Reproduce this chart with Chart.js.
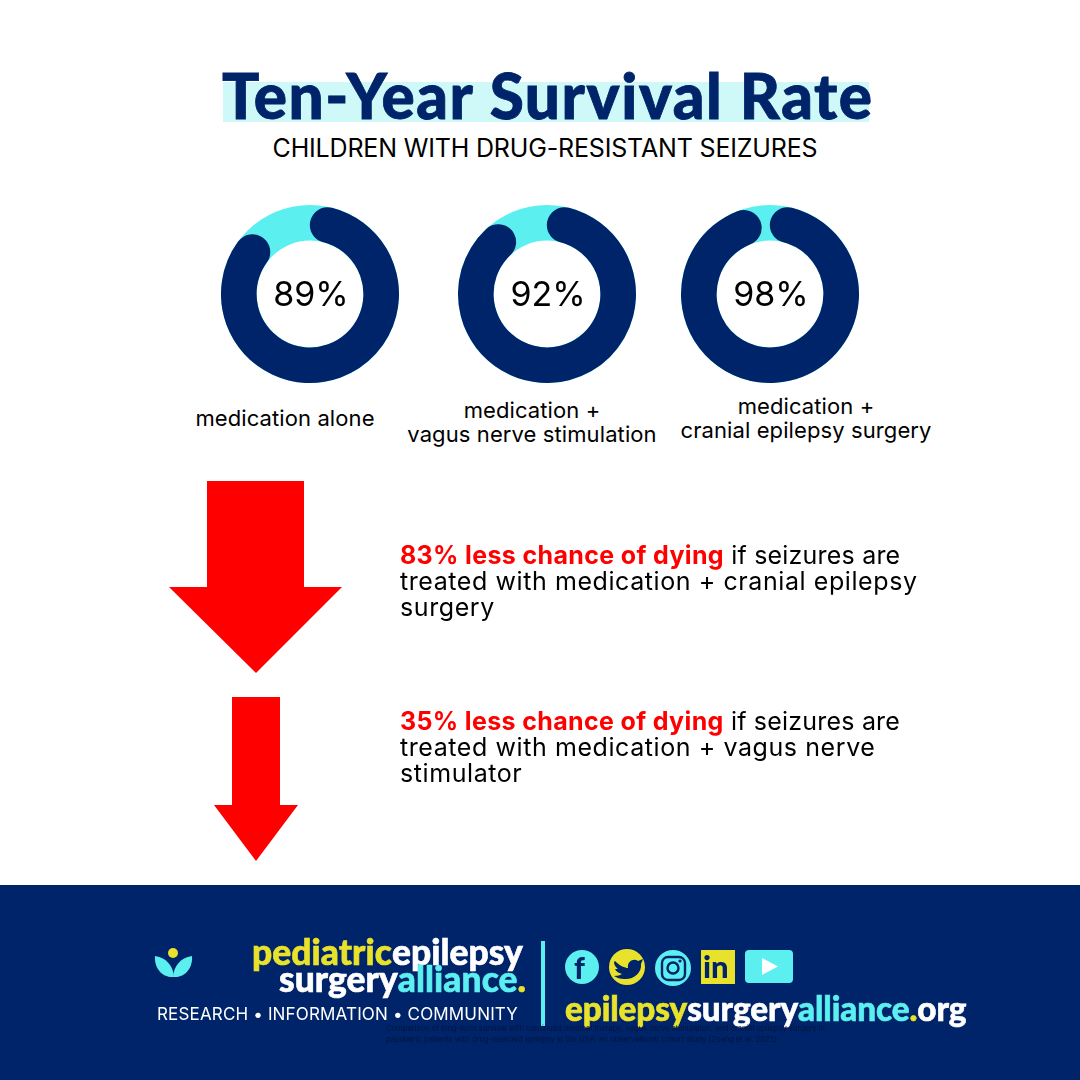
<!DOCTYPE html>
<html>
<head>
<meta charset="utf-8">
<script src="https://cdn.jsdelivr.net/npm/chart.js@4"></script>
<style>
html, body { margin: 0; padding: 0; background: #fff; }
#page { position: relative; width: 1080px; height: 1080px; overflow: hidden; font-family: Inter, sans-serif; color: #000; }
.t { position: absolute; white-space: nowrap; }
.c { text-align: center; transform: translateX(-50%); }
canvas { position: absolute; }
svg { position: absolute; left: 0; top: 0; }
#footer { position: absolute; left: 0; top: 885px; width: 1080px; height: 195px; background: #002469; }
.logo { font-family: Lato, sans-serif; font-weight: 900; line-height: 26px; -webkit-text-stroke: 0.6px currentColor; }
.logo span { display: inline-block; line-height: 26px; }
.y { color: #E8E22C; } .w { color: #fff; } .b { color: #5CEFEF; }
.red { color: #F00; font-weight: 700; letter-spacing: 0.35px; }
.rest { letter-spacing: 0.2px; }
.body { font-size: 25px; line-height: 26px; left: 400px; letter-spacing: 0.58px; font-family: Inter, sans-serif; }
.lab { font-size: 22px; line-height: 24px; letter-spacing: 0.1px; }
</style>
</head>
<body>
<div id="page">
  <div style="position:absolute;left:223px;top:82px;width:646px;height:40px;background:#CFF8F8"></div>
  <div class="t" id="title" style="left:222px;top:57px;font:900 62px/76px Lato,sans-serif;color:#002469;letter-spacing:1.6px;-webkit-text-stroke:0.8px #002469">Ten-Year Survival Rate</div>
  <div class="t c" style="left:545px;top:133px;font-size:25px;line-height:30px;letter-spacing:-0.17px">CHILDREN WITH DRUG-RESISTANT SEIZURES</div>

  <canvas id="d0" width="178" height="178" style="left:221px;top:205px;width:178px;height:178px"></canvas>
  <canvas id="d1" width="178" height="178" style="left:458px;top:205px;width:178px;height:178px"></canvas>
  <canvas id="d2" width="178" height="178" style="left:681px;top:205px;width:178px;height:178px"></canvas>

  <div class="t c lab" id="l0" style="left:285px;top:406px"></div>
  <div class="t c lab" id="l1" style="left:532px;top:398px"></div>
  <div class="t c lab" id="l2" style="left:806px;top:394px"></div>

  <svg width="1080" height="885">
    <polygon fill="#F00" points="207,481 304,481 304,587 342,587 256,673 169,587 207,587"/>
    <polygon fill="#F00" points="232,697 280,697 280,805 298,805 256,861 214,805 232,805"/>
  </svg>

  <div class="t body" style="top:542px"><span class="red">83% less chance of dying</span><span class="rest"> if seizures are</span><br>treated with medication + cranial epilepsy<br>surgery</div>
  <div class="t body" style="top:708px"><span class="red">35% less chance of dying</span><span class="rest"> if seizures are</span><br>treated with medication + vagus nerve<br>stimulator</div>

  <div id="footer"></div>
  <svg width="1080" height="1080" viewBox="0 0 1080 1080">
    <!-- logo sprout -->
    <circle cx="173" cy="953" r="5" fill="#E8E22C"/>
    <path d="M155 956 C167 958 173 966 174 977 C162 978 154 968 155 956 Z" fill="#5CEFEF"/>
    <path d="M192 956 C180 958 174 966 173 977 C185 978 193 968 192 956 Z" fill="#5CEFEF"/>
    <!-- divider -->
    <rect x="541" y="941" width="4" height="85" fill="#5CEFEF"/>
    <!-- social icons -->
    <circle cx="582" cy="967" r="17" fill="#5CEFEF"/>
    <circle cx="627" cy="967" r="18" fill="#E8E22C"/>
    <path d="M615 961 C620 966 625 968 628 968 C627 961 634 958 638 961 L643 959 L641 964 C642 973 633 980 624 979 C620 979 617 978 614 976 C618 976 620 975 622 974 C618 973 616 971 615 969 L618 969 C615 967 614 964 614 962 Z" fill="#002469"/>
    <circle cx="673" cy="968" r="18" fill="#5CEFEF"/>
    <rect x="662" y="957" width="23" height="23" rx="6" fill="none" stroke="#002469" stroke-width="2.4"/>
    <circle cx="673" cy="968" r="5.5" fill="none" stroke="#002469" stroke-width="2.4"/>
    <circle cx="680" cy="961" r="1.6" fill="#002469"/>
    <rect x="701" y="950" width="34" height="34" fill="#E8E22C"/>
    <rect x="745" y="950" width="48" height="33" rx="4" fill="#5CEFEF"/>
    <polygon points="762,958 762,975 778,966.5" fill="#fff"/>
  </svg>
  <div class="t" style="left:574px;top:949px;font:900 30px/36px Lato,sans-serif;color:#002469">f</div>
  <div class="t" style="left:703px;top:948px;font:900 31px/36px Lato,sans-serif;color:#002469">in</div>

  <div class="t logo" style="right:557px;top:939px;font-size:35.4px;letter-spacing:0.05px"><span class="y">pediatric</span><span class="w">epilepsy</span></div>
  <div class="t logo" style="right:554px;top:966px;font-size:35.4px;letter-spacing:0.05px"><span class="w">surgery</span><span class="b">alliance</span><span class="y">.</span></div>
  <div class="t w" style="left:157px;top:1005px;font-size:17px;line-height:18px;letter-spacing:0.16px">RESEARCH • INFORMATION • COMMUNITY</div>
  <div class="t logo" style="left:565px;top:995px;font-size:33.3px;letter-spacing:-0.1px"><span class="y">epilepsy</span><span class="w">surgery</span><span class="b">alliance</span><span class="y">.</span><span class="w">org</span></div>
  <div class="t" style="left:386px;top:1023px;font-size:7.6px;line-height:11px;color:#00153f">Comparison of long-term survival with continued medical therapy, vagus nerve stimulation, and cranial epilepsy surgery in<br>paediatric patients with drug-resistant epilepsy in the USA: an observational cohort study (Zhang et al. 2023)</div>
</div>

<script>
// Chart data
const categories = [
    ['medication alone'],
    ['medication +', 'vagus nerve stimulation'],
    ['medication +', 'cranial epilepsy surgery']
];
const surviving = [89, 92, 98];
const notSurviving = [11, 8, 2];

// Full cyan ring behind the navy arc, so it shows around the round ends
const ringPlugin = {
    id: 'ringPlugin',
    beforeDatasetsDraw: (chart) => {
        const arc = chart.getDatasetMeta(0).data[0];
        const ctx = chart.ctx;
        ctx.save();
        ctx.fillStyle = '#5CEFEF';
        ctx.beginPath();
        ctx.arc(arc.x, arc.y, arc.outerRadius, 0, Math.PI * 2);
        ctx.arc(arc.x, arc.y, arc.innerRadius, Math.PI * 2, 0, true);
        ctx.fill();
        ctx.restore();
    }
};

// Percentage in the middle of the doughnut
const centerPlugin = {
    id: 'centerPlugin',
    afterDatasetsDraw: (chart) => {
        const arc = chart.getDatasetMeta(0).data[0];
        const ctx = chart.ctx;
        ctx.save();
        ctx.fillStyle = '#000';
        ctx.font = '34px Inter, sans-serif';
        ctx.textAlign = 'center';
        ctx.textBaseline = 'middle';
        ctx.fillText(chart.data.datasets[0].data[0] + '%', arc.x + 1, arc.y + 2);
        ctx.restore();
    }
};

surviving.forEach((value, i) => {
    new Chart(document.getElementById('d' + i).getContext('2d'), {
        type: 'doughnut',
        data: {
            labels: ['Survival', 'Other'],
            datasets: [{
                data: [value, notSurviving[i]],
                backgroundColor: ['#002469', 'rgba(0,0,0,0)'],
                borderWidth: 0,
                borderRadius: [18, 0]
            }]
        },
        options: {
            responsive: false,
            animation: false,
            cutout: '60%',
            layout: { padding: 0 },
            plugins: {
                legend: { display: false },
                tooltip: { enabled: false }
            }
        },
        plugins: [ringPlugin, centerPlugin]
    });
    document.getElementById('l' + i).innerHTML = categories[i].join('<br>');
});
</script>
</body>
</html>
